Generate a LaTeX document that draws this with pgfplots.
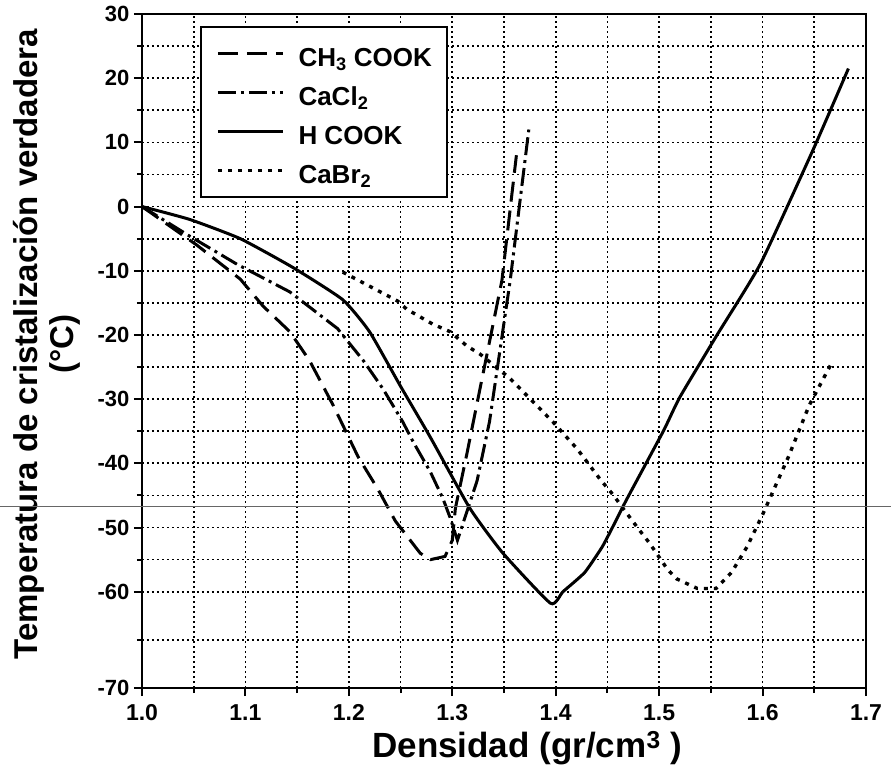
\documentclass[border=0pt]{standalone}
\usepackage{fontspec}
\setmainfont{Liberation Sans}
\usepackage{pgfplots}
\pgfplotsset{compat=1.18}
\begin{document}
\begin{tikzpicture}
\begin{axis}[
  at={(0pt,0pt)}, anchor=south west,
  scale only axis, width=724pt, height=674pt,
  y coord trafo/.code={\pgfmathparse{ifthenelse(#1<-60,-60+(#1+60)*1.5,#1)}},
  y coord inv trafo/.code={\pgfmathparse{ifthenelse(#1<-60,-60+(#1+60)/1.5,#1)}},
  xmin=1, xmax=1.7, ymin=-70, ymax=30,
  xtick={1.0,1.1,1.2,1.3,1.4,1.5,1.6,1.7},
  minor xtick={1.05,1.15,1.25,1.35,1.45,1.55,1.65},
  ytick={-70,-60,-50,-40,-30,-20,-10,0,10,20,30},
  minor ytick={-65,-55,-45,-35,-25,-15,-5,5,15,25},
  xtick pos=bottom, ytick pos=left,
  grid=both,
  major grid style={black, line width=1.7pt, dash pattern=on 1.7pt off 3.3pt},
  minor grid style={black, line width=1.7pt, dash pattern=on 1.7pt off 3.3pt},
  axis line style={black, line width=2.6pt},
  tick align=outside, major tick length=8pt, minor tick length=5pt,
  tick style={black, line width=2pt},
  /pgf/number format/assume math mode=true,
  xticklabel style={font=\fontsize{23}{23}\selectfont\bfseries, yshift=-5pt,
    /pgf/number format/.cd, fixed, fixed zerofill, precision=1},
  yticklabel style={font=\fontsize{22}{22}\selectfont\bfseries, xshift=-1pt,
    /pgf/number format/.cd, fixed, precision=0},
  xlabel={Densidad (gr/cm\textsuperscript{3} )},
  xlabel style={font=\fontsize{35}{38}\selectfont\bfseries, at={(axis description cs:0.532,-0.089)}, anchor=center},
  ylabel={Temperatura de cristalización verdadera\\(°C)},
  ylabel style={align=center, font=\fontsize{33}{36}\selectfont\bfseries, at={(axis description cs:-0.131,0.51)}, anchor=center},
  legend cell align=left,
  legend style={at={(axis cs:1.056,28.2)}, anchor=north west, draw=black, line width=2.4pt,
    font=\fontsize{26}{28}\selectfont\bfseries, inner xsep=15pt, inner ysep=11.5pt, row sep=9pt,
    nodes={inner sep=0pt, text height=28pt, text depth=2pt},
    /tikz/every odd column/.append style={column sep=14pt},
    fill=white},
  legend image code/.code={\draw[#1] (0pt,0pt) -- (65pt,0pt);},
]
% CH3 COOK
\addplot[black, line width=3pt, dash pattern=on 20pt off 9pt] coordinates {
(1.000,0) (1.053,-6) (1.095,-11.3) (1.117,-15.5) (1.143,-19.5) (1.162,-24)
(1.185,-31) (1.194,-34) (1.209,-39) (1.228,-44) (1.245,-49) (1.269,-54)
(1.279,-55) (1.293,-54.5) (1.300,-52) (1.303,-47) (1.314,-38.6) (1.321,-33)
(1.348,-11.5) (1.362,8)};
\addlegendentry{CH\textsubscript{3} COOK}
% CaCl2
\addplot[black, line width=3pt, dash pattern=on 18pt off 5pt on 3pt off 5pt] coordinates {
(1.000,0) (1.020,-2) (1.046,-4.6) (1.092,-9) (1.143,-13.3) (1.189,-19)
(1.214,-24) (1.233,-28.4) (1.252,-33.5) (1.262,-36.6) (1.279,-41.4)
(1.291,-45.5) (1.298,-48.5) (1.305,-52) (1.324,-42.7) (1.336,-33.5)
(1.356,-11.5) (1.374,12)};
\addlegendentry{CaCl\textsubscript{2}}
% H COOK
\addplot[black, line width=3pt, smooth, tension=0.3] coordinates {
(1.000,0) (1.046,-2) (1.095,-5) (1.146,-9.5) (1.194,-14.5) (1.220,-19.5)
(1.250,-28) (1.279,-36) (1.317,-47) (1.349,-54) (1.395,-61.2) (1.407,-60)
(1.428,-57) (1.445,-53) (1.458,-49) (1.469,-45.5) (1.504,-35) (1.520,-29.7)
(1.556,-20) (1.598,-8.9) (1.649,8.9) (1.683,21.5)};
\addlegendentry{H COOK}
% CaBr2
\addplot[black, line width=3.4pt, dash pattern=on 4pt off 6pt] coordinates {
(1.194,-10.2) (1.247,-14.7) (1.256,-16) (1.281,-18.3) (1.298,-19.5)
(1.314,-21.7) (1.327,-23) (1.356,-26.8) (1.397,-33.5) (1.421,-37.8)
(1.443,-42.5) (1.456,-45) (1.465,-47) (1.479,-50) (1.491,-52.5)
(1.508,-56.5) (1.517,-58) (1.537,-59.5) (1.555,-59.5) (1.570,-57)
(1.585,-53) (1.600,-48) (1.625,-39) (1.645,-31) (1.668,-24)};
\addlegendentry{CaBr\textsubscript{2}}
\end{axis}
\draw[black!60, line width=0.8pt] (-142pt,182pt) -- (749pt,182pt);
\pgfresetboundingbox
\useasboundingbox (-142pt,-91pt) rectangle (749pt,688pt);
\end{tikzpicture}
\end{document}
